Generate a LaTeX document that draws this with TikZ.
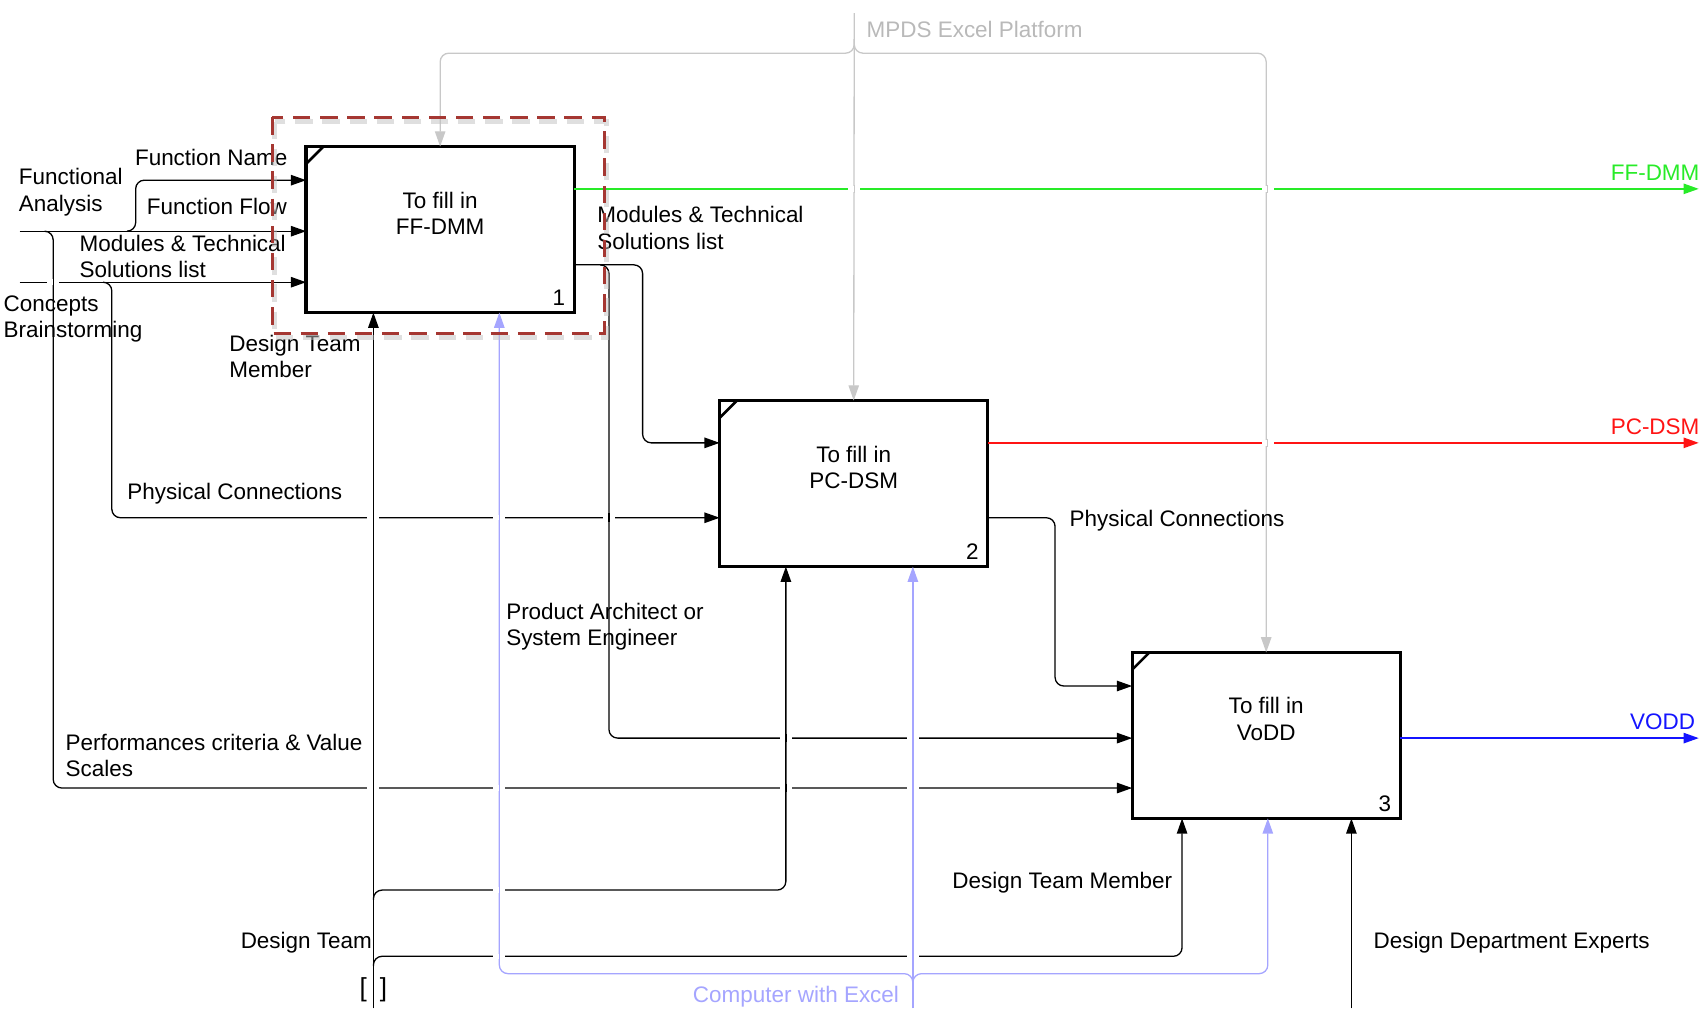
\documentclass[tikz,border=0pt]{standalone}
\usepackage{fontspec}
\setmainfont{Liberation Sans}
\usetikzlibrary{arrows.meta,positioning,calc}

\definecolor{ctrlgray}{RGB}{200,200,200}
\definecolor{ctrltext}{RGB}{185,185,185}
\definecolor{mechblue}{RGB}{165,165,255}
\definecolor{ffgreen}{RGB}{40,235,40}
\definecolor{pcred}{RGB}{255,20,20}
\definecolor{voddblue}{RGB}{20,20,255}
\definecolor{hlred}{RGB}{165,55,50}

\tikzset{
  fnbox/.style={draw, fill=white, line width=1.5pt, minimum width=123.5pt, minimum height=76.5pt, inner sep=0pt, outer sep=0pt},
  boxtxt/.style={font=\fontsize{10.35}{12.2}\selectfont, align=center, inner sep=0pt},
  lbl/.style={font=\fontsize{10.35}{12.2}\selectfont, align=left, inner sep=0pt, anchor=north west},
  conn/.style={line width=0.6pt, rounded corners=4pt},
  arr/.style={conn, -{Triangle[length=7pt,width=4.8pt]}},
}
% line jump where a vertical line crosses a horizontal one
\newcommand{\hop}[3][black]{%
  \fill[white] (#2-5.5,#3-2.5) rectangle (#2+5.5,#3+2.5);
  \draw[conn,#1] (#2,#3-4) -- (#2,#3+4);}

\begin{document}
\begin{tikzpicture}[x=0.5pt, y=-0.5pt]
\useasboundingbox (0,0) rectangle (1568,929);

% activities
\node[fnbox] (b1) at (405.5,211.5) {};
\node[fnbox] (b2) at (786.5,445.5) {};
\node[fnbox] (b3) at (1166.5,677.5) {};
\node[boxtxt] (t1) at ([yshift=7.5pt]b1.center) {To fill in\\FF-DMM};
\node[boxtxt] (t2) at ([yshift=7.5pt]b2.center) {To fill in\\PC-DSM};
\node[boxtxt] (t3) at ([yshift=7.5pt]b3.center) {To fill in\\VoDD};
\foreach \b/\n in {b1/1,b2/2,b3/3} {
  \draw[line width=1.2pt] ([yshift=-8pt]\b.north west) -- ([xshift=8pt]\b.north west);
  \node[lbl, anchor=south east] (n\n) at ([xshift=-4pt,yshift=3pt]\b.south east) {\n};
}

% inputs
\coordinate (fa) at (18,213);
\coordinate (cb) at (18,260);
\draw[arr] (fa) -- (b1.west |- fa);
\draw[arr] (cb) -- (b1.west |- cb);
\draw[arr] (117,213) -| (125,166) -- (b1.west |- 0,166);
\draw[arr] (41,213) -| (49,726) -- (b3.west |- 0,726);
\draw[arr] (95,260) -| (103,477) -- (b2.west |- 0,477);

% outputs
\coordinate (ffend) at (1565,174);
\coordinate (pcend) at (1565,408);
\coordinate (voend) at (1565,680);
\draw[arr] (b1.east |- 0,244) -| (592,408) -- (b2.west |- 0,408);
\draw[arr] (553,244) -| (561,680) -- (b3.west |- 0,680);
\draw[arr] (b2.east |- 0,477) -| (972,632) -- (b3.west |- 0,632);
\draw[arr, ffgreen] (b1.east |- ffend) -- (ffend);
\draw[arr, pcred] (b2.east |- pcend) -- (pcend);
\draw[arr, voddblue] (b3.east |- voend) -- (voend);

% controls
\coordinate (mpds) at (787,12);
\draw[arr, ctrlgray] (mpds) -- (b2.north);
\draw[arr, ctrlgray] (787,36) |- (b1.north |- 0,49) -- (b1.north);
\draw[arr, ctrlgray] (787,36) |- (b3.north |- 0,49) -- (b3.north);

% mechanisms
\coordinate (dteam) at (344,929);
\coordinate (cwe) at (841,929);
\coordinate (ddexp) at (1245,929);
\draw[arr] (dteam) -- (b1.south -| dteam);
\draw[arr] (344,829) |- (724,820) -- (b2.south -| 724,0);
\draw[arr] (344,890) |- (1089,881) -- (b3.south -| 1089,0);
\draw[arr] (ddexp) -- (b3.south -| ddexp);
\draw[arr, mechblue] (cwe) -- (b2.south -| cwe);
\draw[arr, mechblue] (841,908) |- (460,897) -- (b1.south -| 460,0);
\draw[arr, mechblue] (841,908) |- (1168,897) -- (b3.south -| 1168,0);

% line jumps
\foreach \x/\y in {49/260, 344/477, 561/477, 344/726, 724/726, 724/680} {\hop{\x}{\y}}
\foreach \x/\y in {460/477, 460/726, 841/726, 841/680, 460/820, 460/881, 841/881} {\hop[mechblue]{\x}{\y}}
\foreach \x/\y in {787/174, 1168/174, 1168/408} {\hop[ctrlgray]{\x}{\y}}

% labels
\node[lbl] (fan) at (17,155) {Functional\\Analysis};
\node[lbl] (fnm) at (124,137) {Function Name};
\node[lbl] (ffw) at (135,182) {Function Flow};
\node[lbl] (mts1) at (73,216) {Modules \& Technical\\Solutions list};
\node[lbl] (cbr) at (3,272) {Concepts\\Brainstorming};
\node[lbl] (dtm1) at (211,308) {Design Team\\Member};
\node[lbl] (mts2) at (550,190) {Modules \& Technical\\Solutions list};
\node[lbl] (pc1) at (117,445) {Physical Connections};
\node[lbl] (pc2) at (985,470) {Physical Connections};
\node[lbl] (pase) at (466,555) {Product Architect or\\System Engineer};
\node[lbl] (pcvs) at (60,676) {Performances criteria \& Value\\Scales};
\node[lbl] (dtm2) at (877,803) {Design Team Member};
\node[lbl, anchor=north east] (dt) at (343,858) {Design Team};
\node[lbl] (dde) at (1265,858) {Design Department Experts};
\node[lbl, text=mechblue] (cwel) at (638,908) {Computer with Excel};
\node[lbl, text=ctrltext] (mpdsl) at (798,19) {MPDS Excel Platform};
\node[lbl, anchor=north east, text=ffgreen] (ffo) at (1566,152) {FF-DMM};
\node[lbl, anchor=north east, text=pcred] (pco) at (1566,385) {PC-DSM};
\node[lbl, anchor=north east, text=voddblue] (vdo) at (1562,657) {VODD};
\node[font=\fontsize{12}{14}\selectfont, inner sep=0pt] (tun) at (344,912) {[\hspace{6pt}]};

% highlight of activity 1
\draw[black!25, opacity=0.5, line width=2.4pt, dash pattern=on 8pt off 4.5pt] (253,112) rectangle (559,311);
\draw[hlred, line width=1.5pt, dash pattern=on 8pt off 4.5pt] (251,108) rectangle (557,307);
\end{tikzpicture}
\end{document}
